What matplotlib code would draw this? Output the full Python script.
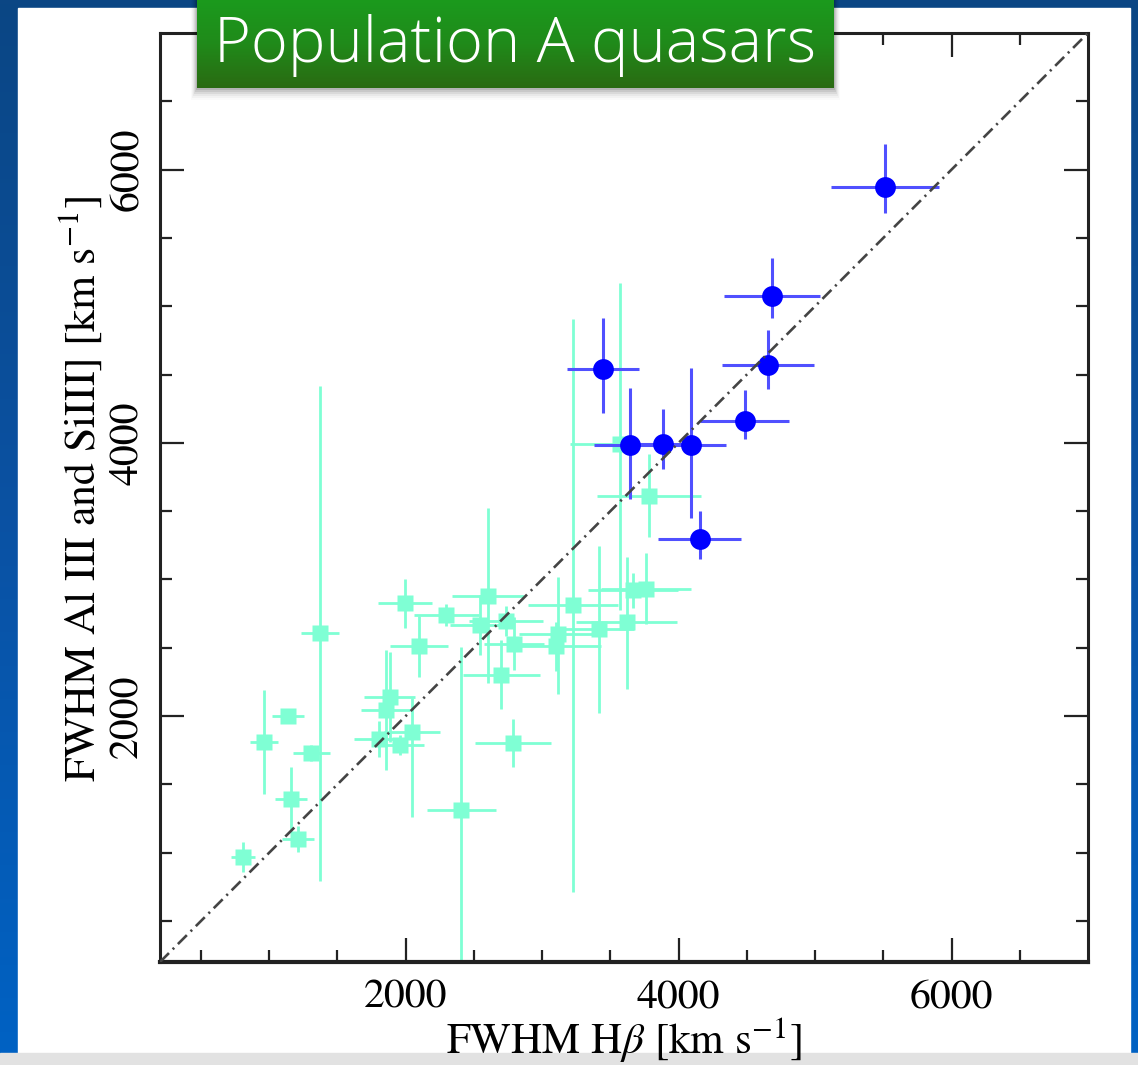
import numpy as np
import matplotlib
matplotlib.use('Agg')
import matplotlib.pyplot as plt
from matplotlib.patches import Rectangle
from matplotlib.colors import LinearSegmentedColormap

# ---------------- data ----------------
# Population A quasars (cyan squares)
cyan_x = [808, 1212, 1160, 963, 1139, 1310, 1372, 1803, 1854, 1883, 1956, 2047, 2095, 1996,
          2299, 2409, 2548, 2604, 2701, 2737, 2796, 2786, 3117, 3102, 3224, 3418, 3621,
          3664, 3759, 3570, 3783]
cyan_y = [969, 1102, 1394, 1810, 2000, 1730, 2606, 1832, 2047, 2139, 1788, 1880, 2511, 2825,
          2737, 1314, 2664, 2880, 2304, 2694, 2531, 1805, 2599, 2511, 2810, 2635, 2688,
          2920, 2932, 3993, 3613]
cyan_xerr = [85, 115, 115, 100, 115, 135, 140, 180, 180, 185, 180, 205, 212, 200,
             240, 250, 220, 265, 280, 270, 220, 280, 290, 330, 330, 255, 370,
             330, 330, 365, 380]
cyan_yerr_lo = [110, 95, 235, 380, 50, 60, 1810, 130, 440, 330, 70, 620, 225, 180,
                80, 1190, 220, 640, 250, 110, 195, 175, 440, 180, 2100, 610, 490,
                130, 260, 1220, 305]
cyan_yerr_hi = [110, 95, 235, 380, 50, 60, 1810, 130, 440, 330, 70, 255, 225, 180,
                80, 1190, 220, 640, 250, 110, 195, 175, 420, 180, 2100, 610, 475,
                130, 260, 1175, 305]

# blue circles
blue_x = [5511, 4684, 4655, 4484, 3448, 3645, 3886, 4093, 4155]
blue_y = [5876, 5073, 4567, 4161, 4538, 3985, 3990, 3985, 3297]
blue_xerr = [395, 350, 336, 325, 263, 263, 220, 255, 304]
blue_yerr_lo = [190, 160, 170, 131, 319, 394, 180, 538, 146]
blue_yerr_hi = [314, 277, 256, 226, 377, 416, 260, 564, 204]

axis_range = [200, 7000]
x_major = [2000, 4000, 6000]
title = "Population A quasars"
xlabel = r"FWHM H$\beta$ [km s$^{\mathregular{-1}}$]"
ylabel = r"FWHM Al III and SiIII] [km s$^{-1}$]"

# ---------------- figure ----------------
W, H = 1138, 1065
fig = plt.figure(figsize=(W / 100, H / 100), dpi=100)
plt.rcParams['mathtext.fontset'] = 'stix'

def fx(px):
    return px / W

def fy(py):
    return 1 - py / H

# slide background
bg = fig.add_axes([0, 0, 1, 1], zorder=-10)
bg.set_xlim(0, W)
bg.set_ylim(H, 0)
bg.axis('off')
grad = np.linspace(0, 1, 256).reshape(-1, 1)
blue_cmap = LinearSegmentedColormap.from_list('b', ['#0b4684', '#0a52a4', '#0062c4'])
bg.imshow(grad, cmap=blue_cmap, extent=[0, W, H, 0], aspect='auto')
bg.add_patch(Rectangle((18, 8), 1112, 1047, color='white'))
bg.add_patch(Rectangle((0, 1053), W, 12, color='#e2e2e2'))

# main axes
ax = fig.add_axes([fx(160), fy(962), (1088 - 160) / W, (962 - 33) / H])
ax.set_facecolor('none')

serif = 'STIXGeneral'

ax.errorbar(cyan_x, cyan_y, xerr=cyan_xerr, yerr=[cyan_yerr_lo, cyan_yerr_hi],
            fmt='s', ms=11.5, color='#7fffd4', mec='none', ecolor='#7fffd4',
            elinewidth=2.0, capsize=0, zorder=2)
ax.errorbar(blue_x, blue_y, xerr=blue_xerr, yerr=[blue_yerr_lo, blue_yerr_hi],
            fmt='o', ms=15, color='#0000ff', mec='none', ecolor='#5050ff',
            elinewidth=2.2, capsize=0, zorder=3)
ax.plot(axis_range, axis_range, color='#444444', lw=1.9,
        ls=(0, (4.8, 2.0, 0.8, 2.0)), zorder=4)

ax.set_xlim(*axis_range)
ax.set_ylim(*axis_range)
ax.set_xticks(x_major)
ax.set_yticks(x_major)
ax.set_xticks(np.arange(500, 7000, 500), minor=True)
ax.set_yticks(np.arange(500, 7000, 500), minor=True)
ax.set_xticklabels([str(v) for v in x_major], fontfamily=serif, fontsize=30)
ax.set_yticklabels([str(v) for v in x_major], fontfamily=serif, fontsize=30,
                   rotation=90, va='center')
ax.tick_params(which='both', direction='in', top=True, right=True, width=1.6, color='#222222')
ax.tick_params(which='major', length=17)
ax.tick_params(which='minor', length=8.5)
ax.tick_params(axis='x', pad=12)
ax.tick_params(axis='y', pad=10)
for s in ax.spines.values():
    s.set_linewidth(2.2)
    s.set_color('#222222')
ax.spines['bottom'].set_linewidth(3.0)

ax.set_xlabel(xlabel, fontfamily=serif, fontsize=31, va='baseline')
ax.xaxis.set_label_coords(0.5, (962 - 1054) / 929)
ax.set_ylabel(ylabel, fontfamily=serif, fontsize=31.5, va='center')
ax.yaxis.set_label_coords((80 - 160) / 928, (962 - 489) / 929)

# shadow of title box
ov = fig.add_axes([0, 0, 1, 1], zorder=4)
ov.set_xlim(0, W)
ov.set_ylim(H, 0)
ov.axis('off')
ov.patch.set_alpha(0)
for i, a in enumerate([0.10, 0.08, 0.06, 0.04, 0.03, 0.02]):
    d = 2 + 2 * i
    ov.add_patch(Rectangle((197 - d / 2, 0), 637 + d, 88 + d, color='black', alpha=a, lw=0))

# title box
tb = fig.add_axes([fx(197), fy(88), (834 - 197) / W, 88 / H], zorder=5)
green_cmap = LinearSegmentedColormap.from_list('g', ['#1b9a1d', '#208a1a', '#2a6a12'])
tb.imshow(grad, cmap=green_cmap, extent=[0, 1, 1, 0], aspect='auto')
tb.set_xlim(0, 1)
tb.set_ylim(1, 0)
tb.axis('off')
tb.text(0.5, 0.48, title, color='white', fontsize=45.5, fontfamily='Open Sans',
        fontweight='light', ha='center', va='center', transform=tb.transAxes)

fig.savefig('out.png', dpi=100)
